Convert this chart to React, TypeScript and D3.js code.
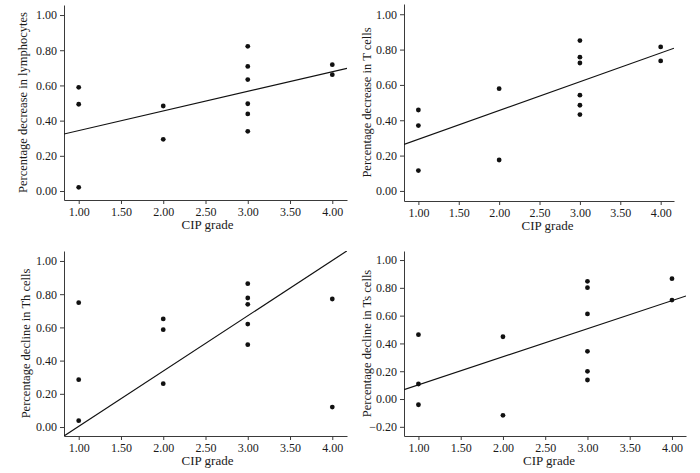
import { useEffect, useRef } from 'react';
import * as d3 from 'd3';

// CIP grade per patient, and the percentage change
const gradeLymph = [1, 1, 1, 2, 2, 3, 3, 3, 3, 3, 3, 4, 4];
const lymphocytes = [0.589, 0.493, 0.021, 0.483, 0.294, 0.822, 0.708, 0.633, 0.496, 0.438, 0.339, 0.718, 0.661];

const gradeT = [1, 1, 1, 2, 2, 3, 3, 3, 3, 3, 3, 4, 4];
const tCells = [0.458, 0.37, 0.115, 0.579, 0.175, 0.851, 0.757, 0.724, 0.542, 0.485, 0.432, 0.815, 0.736];

const gradeTh = [1, 1, 1, 2, 2, 2, 3, 3, 3, 3, 3, 4, 4];
const thCells = [0.749, 0.285, 0.038, 0.651, 0.586, 0.261, 0.863, 0.777, 0.739, 0.62, 0.496, 0.771, 0.12];

const gradeTs = [1, 1, 1, 2, 2, 3, 3, 3, 3, 3, 3, 4, 4];
const tsCells = [0.463, 0.108, -0.041, 0.448, -0.117, 0.847, 0.801, 0.612, 0.343, 0.199, 0.137, 0.866, 0.712];

// fit lines as drawn in the figure
const fitSlopes = [0.1114, 0.1627, 0.333, 0.202];
const fitIntercepts = [0.232, 0.13, -0.329, -0.1];

const yTitles = [
  'Percentage decrease in lymphocytes',
  'Percentage decrease in T cells',
  'Percentage decline in Th cells',
  'Percentage decline in Ts cells',
];
const xTitle = 'CIP grade';

const xTicks = [1, 1.5, 2, 2.5, 3, 3.5, 4];
const yTicks = [0, 0.2, 0.4, 0.6, 0.8, 1];
const yTicksTs = [-0.2, 0, 0.2, 0.4, 0.6, 0.8, 1];

interface Panel {
  xs: number[];
  ys: number[];
  xDomain: [number, number];
  yDomain: [number, number];
  yTicks: number[];
  box: { left: number; right: number; top: number; bottom: number };
  yTitleX: number;
  xTitleX: number;
}

const panels: Panel[] = [
  {
    xs: gradeLymph, ys: lymphocytes, xDomain: [0.826, 4.174], yDomain: [-0.051, 1.057], yTicks,
    box: { left: 64, right: 347, top: 5, bottom: 200 }, yTitleX: 27, xTitleX: 207.5,
  },
  {
    xs: gradeT, ys: tCells, xDomain: [0.822, 4.165], yDomain: [-0.057, 1.058], yTicks,
    box: { left: 404, right: 674, top: 4, bottom: 201 }, yTitleX: 371, xTitleX: 547.5,
  },
  {
    xs: gradeTh, ys: thCells, xDomain: [0.826, 4.174], yDomain: [-0.054, 1.06], yTicks,
    box: { left: 64, right: 347, top: 251, bottom: 436 }, yTitleX: 30, xTitleX: 207.5,
  },
  {
    xs: gradeTs, ys: tsCells, xDomain: [0.829, 4.166], yDomain: [-0.266, 1.065], yTicks: yTicksTs,
    box: { left: 404, right: 686, top: 251, bottom: 436 }, yTitleX: 371, xTitleX: 549,
  },
];

const FONT = '"Liberation Serif", "Times New Roman", serif';

export default function App() {
  const svgRef = useRef<SVGSVGElement>(null);

  useEffect(() => {
    if (!svgRef.current) return;
    const svg = d3.select(svgRef.current);
    svg.selectAll('*').remove();

    panels.forEach((p, i) => {
      const { box } = p;
      const x = d3.scaleLinear().domain(p.xDomain).range([box.left, box.right]);
      const y = d3.scaleLinear().domain(p.yDomain).range([box.bottom, box.top]);
      const g = svg.append('g');

      const clipId = `clip-${i}`;
      svg.append('clipPath').attr('id', clipId)
        .append('rect')
        .attr('x', box.left).attr('y', box.top)
        .attr('width', box.right - box.left).attr('height', box.bottom - box.top);

      // axes
      const xAxis = d3.axisBottom(x).tickValues(p.xTicks ?? xTicks).tickFormat(d3.format('.2f'))
        .tickSizeInner(4).tickSizeOuter(0).tickPadding(3);
      const yAxis = d3.axisLeft(y).tickValues(p.yTicks).tickFormat(d3.format('.2f'))
        .tickSizeInner(4).tickSizeOuter(0).tickPadding(3);

      const gx = g.append('g').attr('transform', `translate(0,${box.bottom})`).call(xAxis);
      const gy = g.append('g').attr('transform', `translate(${box.left},0)`).call(yAxis);

      [gx, gy].forEach((ax) => {
        ax.selectAll('.domain, .tick line').attr('stroke', '#3a3a3a').attr('stroke-width', 1);
        ax.selectAll('text')
          .attr('fill', '#1a1a1a')
          .attr('font-size', 12)
          .attr('font-family', FONT);
      });

      // fit line
      g.append('line')
        .attr('clip-path', `url(#${clipId})`)
        .attr('x1', x(p.xDomain[0]))
        .attr('y1', y(fitIntercepts[i] + fitSlopes[i] * p.xDomain[0]))
        .attr('x2', x(p.xDomain[1]))
        .attr('y2', y(fitIntercepts[i] + fitSlopes[i] * p.xDomain[1]))
        .attr('stroke', '#111')
        .attr('stroke-width', 1.2);

      // points
      g.selectAll('circle.pt')
        .data(p.xs.map((v, k) => [v, p.ys[k]]))
        .enter()
        .append('circle')
        .attr('class', 'pt')
        .attr('cx', (d) => x(d[0]))
        .attr('cy', (d) => y(d[1]))
        .attr('r', 2.4)
        .attr('fill', '#111');

      // titles
      g.append('text')
        .attr('x', p.xTitleX)
        .attr('y', box.bottom + 29)
        .attr('text-anchor', 'middle')
        .attr('font-size', 13)
        .attr('font-family', FONT)
        .attr('fill', '#1a1a1a')
        .text(xTitle);

      g.append('text')
        .attr('transform', `translate(${p.yTitleX},${(box.top + box.bottom) / 2}) rotate(-90)`)
        .attr('text-anchor', 'middle')
        .attr('font-size', 12.5)
        .attr('font-family', FONT)
        .attr('fill', '#1a1a1a')
        .text(yTitles[i]);
    });
  }, []);

  return (
    <div style={{ position: 'absolute', left: 0, top: 0, width: 700, height: 473, background: '#fff' }}>
      <svg ref={svgRef} width={700} height={473} style={{ display: 'block' }} />
    </div>
  );
}
